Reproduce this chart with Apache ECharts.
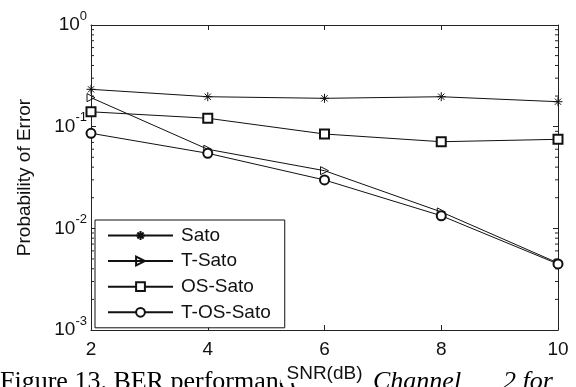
<!DOCTYPE html>
<html>
<head>
<meta charset="utf-8">
<script src="https://cdn.jsdelivr.net/npm/echarts@6/dist/echarts.min.js"></script>
<style>
html,body{margin:0;padding:0;background:#fff;}
#chart{width:576px;height:387px;}
</style>
</head>
<body>
<div id="chart"></div>
<script>
// ---- data ----
const snr = [2, 4, 6, 8, 10];
const seriesNames = ['Sato', 'T-Sato', 'OS-Sato', 'T-OS-Sato'];
const sato    = [0.233, 0.197, 0.190, 0.197, 0.176];
const tSato   = [0.193, 0.0599, 0.0369, 0.0145, 0.00456];
const osSato  = [0.140, 0.121, 0.0847, 0.0711, 0.0751];
const tOsSato = [0.0861, 0.0547, 0.0299, 0.0133, 0.00446];
const xTicks = [2, 4, 6, 8, 10];
const yMinorTicks = [0.002,0.003,0.004,0.005,0.006,0.007,0.008,0.009,
                     0.02,0.03,0.04,0.05,0.06,0.07,0.08,0.09,
                     0.2,0.3,0.4,0.5,0.6,0.7,0.8,0.9];
const xName = 'SNR(dB)';
const yName = 'Probability of Error';
const captionParts = ['Figure 13. BER performance', 'Channel', '2 for'];

const INK = '#111';
const AX = '#222';
const FONT = '"Liberation Sans", Arial, sans-serif';
const SERIF = '"Liberation Serif", "Times New Roman", serif';

function pairs(vals){ return snr.map((x,i)=>[x, vals[i]]); }

const starPath = 'path://M0,5L10,5M5,0L5,10M1.5,1.5L8.5,8.5M8.5,1.5L1.5,8.5';
const triPath = 'path://M0,0L10,5L0,10Z';

const chart = echarts.init(document.getElementById('chart'), null, {renderer:'canvas'});

const option = {
  animation: false,
  backgroundColor: '#fff',
  grid: {left: 91, right: 18, top: 25, bottom: 57, containLabel: false, outerBoundsMode: 'none'},
  legend: {
    orient: 'vertical',
    left: 95, top: 220,
    data: seriesNames,
    backgroundColor: '#fff',
    borderColor: INK, borderWidth: 1,
    padding: [6, 14, 6, 12],
    itemWidth: 65, itemHeight: 11, itemGap: 6.6,
    textStyle: {fontFamily: FONT, fontSize: 19, color: INK, padding: [0,0,0,3]}
  },
  xAxis: [{
    type: 'value', min: 2, max: 10, interval: 2, position: 'bottom',
    name: xName, nameLocation: 'middle', nameGap: 32,
    nameTextStyle: {fontFamily: FONT, fontSize: 19, color: INK, backgroundColor: '#fff', padding: [0, 6, 0, 6]},
    axisLine: {show: true, onZero: false, lineStyle: {color: AX, width: 1}},
    axisTick: {show: true, inside: true, length: 5, lineStyle: {color: AX}},
    axisLabel: {fontFamily: FONT, fontSize: 19, color: INK, margin: 10, showMinLabel: true, showMaxLabel: true},
    splitLine: {show: false}
  }, {
    type: 'value', min: 2, max: 10, interval: 2, position: 'top',
    axisLine: {show: true, onZero: false, lineStyle: {color: AX, width: 1}},
    axisTick: {show: true, inside: true, length: 5, lineStyle: {color: AX}},
    axisLabel: {show: false},
    splitLine: {show: false}
  }],
  yAxis: [{
    type: 'log', logBase: 10, min: 0.001, max: 1, position: 'left',
    name: yName, nameLocation: 'middle', nameGap: 57,
    nameTextStyle: {fontFamily: FONT, fontSize: 19, color: INK},
    axisLine: {show: true, onZero: false, lineStyle: {color: AX, width: 1}},
    axisTick: {show: true, inside: true, length: 5, lineStyle: {color: AX}},
    axisLabel: {
      margin: 4, showMinLabel: true, showMaxLabel: true,
      formatter: function(v){ return '{b|10}{e|' + Math.round(Math.log10(v)) + '}'; },
      rich: {
        b: {fontFamily: FONT, fontSize: 19, color: INK},
        e: {fontFamily: FONT, fontSize: 13, color: INK, padding: [0,0,18,0]}
      }
    },
    splitLine: {show: false}
  }, {
    type: 'log', logBase: 10, min: 0.001, max: 1, position: 'right',
    axisLine: {show: true, onZero: false, lineStyle: {color: AX, width: 1}},
    axisTick: {show: true, inside: true, length: 5, lineStyle: {color: AX}},
    axisLabel: {show: false},
    splitLine: {show: false}
  }],
  series: [
    {
      name: 'Sato', type: 'line', data: pairs(sato),
      symbol: starPath, symbolSize: 9,
      lineStyle: {color: INK, width: 1},
      itemStyle: {color: INK, borderColor: INK, borderWidth: 1}
    },
    {
      name: 'T-Sato', type: 'line', data: pairs(tSato),
      symbol: triPath, symbolSize: 8,
      lineStyle: {color: INK, width: 1},
      itemStyle: {color: 'rgba(255,255,255,0)', borderColor: INK, borderWidth: 1}
    },
    {
      name: 'OS-Sato', type: 'line', data: pairs(osSato),
      symbol: 'emptyRect', symbolSize: 9,
      lineStyle: {color: INK, width: 1},
      itemStyle: {color: INK, borderWidth: 1}
    },
    {
      name: 'T-OS-Sato', type: 'line', data: pairs(tOsSato),
      symbol: 'emptyCircle', symbolSize: 9,
      lineStyle: {color: INK, width: 1},
      itemStyle: {color: INK, borderWidth: 1}
    },
    {
      name: 'minorTicks', type: 'custom', silent: true,
      data: yMinorTicks.map(v => [v]),
      renderItem: function(params, api){
        const v = api.value(0);
        const l = api.coord([xTicks[0], v]);
        const r = api.coord([xTicks[xTicks.length-1], v]);
        return {type: 'group', children: [
          {type: 'line', shape: {x1: l[0], y1: l[1], x2: l[0] + 3, y2: l[1]}, style: {stroke: AX, lineWidth: 1}},
          {type: 'line', shape: {x1: r[0] - 3, y1: r[1], x2: r[0], y2: r[1]}, style: {stroke: AX, lineWidth: 1}}
        ]};
      },
      encode: {y: 0},
      z: 1
    }
  ],
  graphic: [
    {type: 'text', left: 0, top: 369, z: -1,
     style: {text: captionParts[0], font: '26px ' + SERIF, fill: '#000'}},
    {type: 'text', left: 373, top: 369, z: -1,
     style: {text: captionParts[1], font: 'italic 26px ' + SERIF, fill: '#000'}},
    {type: 'text', left: 503, top: 369, z: -1,
     style: {text: captionParts[2], font: 'italic 26px ' + SERIF, fill: '#000'}}
  ]
};
chart.setOption(option);
</script>
</body>
</html>
